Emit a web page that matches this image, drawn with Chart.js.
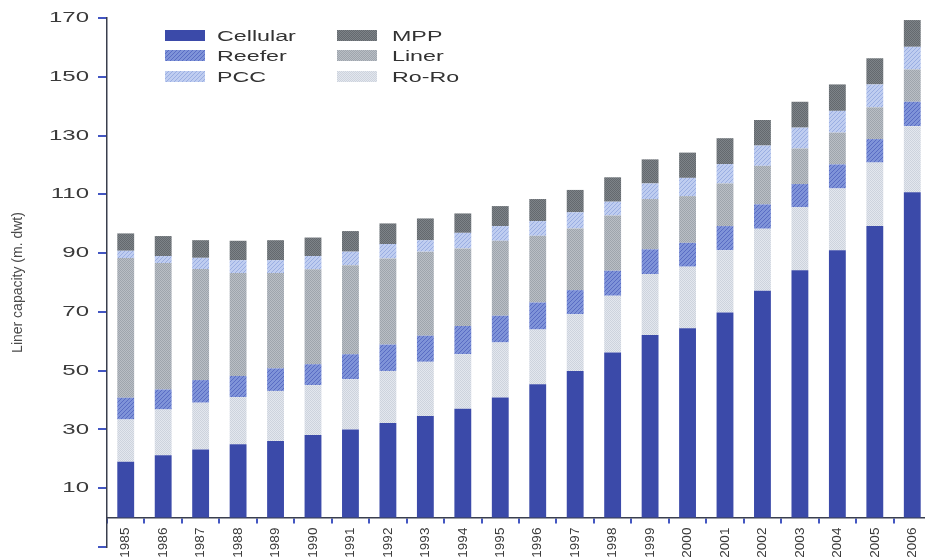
<!DOCTYPE html>
<html>
<head>
<meta charset="utf-8">
<script src="https://cdn.jsdelivr.net/npm/chart.js@4/dist/chart.umd.min.js"></script>
<style>
  html, body { margin: 0; padding: 0; background: #ffffff; }
  #wrap { position: relative; width: 925px; height: 558px; overflow: hidden; }
  #c { position: absolute; left: 0; top: 0; }
  #legend { position: absolute; left: 0; top: 0; font-family: 'Liberation Sans', Arial, Helvetica, sans-serif; font-size: 15.5px; color: #333; }
  .item { position: absolute; height: 12px; }
  .item canvas { position: absolute; left: 0; top: 0; }
  .item span { position: absolute; top: -3px; white-space: nowrap; transform: scaleX(1.5); transform-origin: 0 50%; line-height: 18px; }
</style>
</head>
<body>
<div id="wrap">
  <canvas id="c" width="931" height="558"></canvas>
  <div id="legend"></div>
</div>
<script>
// ---- data (million dwt) ----
const years = ['1985','1986','1987','1988','1989','1990','1991','1992','1993','1994','1995','1996','1997','1998','1999','2000','2001','2002','2003','2004','2005','2006'];
const cellular = [19.0,21.2,23.2,25.0,26.1,28.1,30.0,32.2,34.6,37.0,40.9,45.4,49.9,56.2,62.1,64.4,69.8,77.2,84.2,91.0,99.2,110.7];
const roro     = [14.4,15.6,15.9,16.0,17.0,17.0,17.1,17.7,18.4,18.6,18.7,18.6,19.3,19.3,20.8,21.0,21.2,21.1,21.4,21.0,21.6,22.5];
const reefer   = [7.4,6.8,7.7,7.2,7.7,7.1,8.5,9.0,8.9,9.6,9.1,9.2,8.2,8.5,8.4,8.1,8.2,8.3,7.9,8.2,8.0,8.3];
const liner    = [47.5,43.0,37.8,35.0,32.4,32.3,30.3,29.3,28.6,26.4,25.5,22.7,21.0,18.8,17.1,15.9,14.5,13.1,12.1,10.8,10.8,11.0];
const pcc      = [2.5,2.4,3.8,4.4,4.4,4.5,4.6,4.9,3.9,5.3,5.0,5.0,5.5,4.7,5.3,6.2,6.6,6.9,7.1,7.4,7.8,7.7];
const mpp      = [5.9,6.8,6.0,6.6,6.8,6.3,7.0,7.0,7.4,6.6,6.8,7.5,7.6,8.3,8.2,8.6,8.8,8.7,8.8,9.0,8.9,9.1];
const yTickValues = [-10,10,30,50,70,90,110,130,150,170];
const legendOrder = ['Cellular','MPP','Reefer','Liner','PCC','Ro-Ro'];

// ---- textures ----
function makeTexture(base, fg, kind) {
  const c = document.createElement('canvas');
  const n = kind === 'hatch' ? 4 : 2;
  c.width = n; c.height = n;
  const g = c.getContext('2d');
  g.fillStyle = base; g.fillRect(0, 0, n, n);
  g.fillStyle = fg;
  if (kind === 'hatch') {
    for (let i = 0; i < n; i++) g.fillRect(n - 1 - i, i, 1, 1);
  } else if (kind === 'dots') {
    g.fillRect(0, 0, 1, 1); g.fillRect(1, 1, 1, 1);
  }
  return c;
}
const ctx0 = document.getElementById('c').getContext('2d');
const tex = {
  'Cellular': makeTexture('#3b4aa9', '#3b4aa9', 'solid'),
  'Ro-Ro':    makeTexture('#e3e7ee', '#cdd3dd', 'dots'),
  'Reefer':   makeTexture('#7f93d8', '#596cc4', 'hatch'),
  'Liner':    makeTexture('#b9bec5', '#9ea5ad', 'dots'),
  'PCC':      makeTexture('#bfcdf0', '#9aaee2', 'hatch'),
  'MPP':      makeTexture('#7d8388', '#64696e', 'dots')
};
const pat = k => ctx0.createPattern(tex[k], 'repeat');

// ---- y scale with horizontally widened tick labels ----
class StretchLinear extends Chart.LinearScale {
  drawLabels(area) {
    const ctx = this.ctx;
    const ax = this.right - this.options.grid.tickLength - this.options.ticks.padding;
    ctx.save();
    ctx.translate(ax, 0); ctx.scale(1.6, 1); ctx.translate(-ax, 0);
    super.drawLabels(area);
    ctx.restore();
  }
}
StretchLinear.id = 'stretchLinear';
Chart.register(StretchLinear);

const FONT = "'Liberation Sans', Arial, Helvetica, sans-serif";
const tickBlue = '#4356c2';
const axisColor = '#3a3f4e';

const chart = new Chart(document.getElementById('c'), {
  type: 'bar',
  data: {
    labels: years,
    datasets: [
      { label: 'Cellular', data: cellular, backgroundColor: pat('Cellular') },
      { label: 'Ro-Ro',    data: roro,     backgroundColor: pat('Ro-Ro') },
      { label: 'Reefer',   data: reefer,   backgroundColor: pat('Reefer') },
      { label: 'Liner',    data: liner,    backgroundColor: pat('Liner') },
      { label: 'PCC',      data: pcc,      backgroundColor: pat('PCC') },
      { label: 'MPP',      data: mpp,      backgroundColor: pat('MPP') }
    ]
  },
  options: {
    responsive: false,
    animation: false,
    events: [],
    layout: { padding: { top: 18, bottom: 11, left: 0, right: 0 } },
    datasets: { bar: { categoryPercentage: 1.0, barPercentage: 0.45, borderWidth: 0 } },
    plugins: { legend: { display: false }, tooltip: { enabled: false } },
    scales: {
      x: {
        stacked: true,
        position: { y: 0 },
        afterFit: s => { s.paddingLeft = 0; s.paddingRight = 0; s.paddingTop = 0; s.paddingBottom = 0; },
        grid: { drawOnChartArea: false, drawTicks: true, tickLength: 5, color: tickBlue, lineWidth: 2, offset: true },
        border: { color: axisColor, width: 1.5 },
        ticks: { minRotation: 90, maxRotation: 90, autoSkip: false, padding: 5, color: '#3a3a3a', font: { family: FONT, size: 13.5 } }
      },
      y: {
        type: 'stretchLinear',
        stacked: true,
        min: -10,
        max: 170,
        afterBuildTicks: s => { s.ticks = yTickValues.map(v => ({ value: v })); },
        afterFit: s => { s.width = 107; s.paddingTop = 0; s.paddingBottom = 0; },
        grid: { drawOnChartArea: false, drawTicks: true, tickLength: 9, color: tickBlue, lineWidth: 2 },
        border: { color: axisColor, width: 1.5 },
        ticks: { padding: 9, color: '#3a3a3a', font: { family: FONT, size: 15 }, callback: v => (v < 0 ? '' : String(v)) },
        title: { display: true, text: 'Liner capacity (m. dwt)', color: '#4a4a4a', font: { family: FONT, size: 14 }, padding: { top: 10, bottom: 0 } }
      }
    }
  }
});

// ---- legend (built from the chart's datasets) ----
const legendPos = [
  { x: 165, y: 30 }, { x: 337, y: 30 },
  { x: 165, y: 50 }, { x: 337, y: 50 },
  { x: 165, y: 70.5 }, { x: 337, y: 70.5 }
];
const legend = document.getElementById('legend');
legendOrder.forEach((name, i) => {
  const p = legendPos[i];
  const d = document.createElement('div');
  d.className = 'item';
  d.style.left = p.x + 'px'; d.style.top = p.y + 'px';
  const sw = document.createElement('canvas');
  sw.width = 40; sw.height = 11;
  const g = sw.getContext('2d');
  g.fillStyle = g.createPattern(tex[name], 'repeat');
  g.fillRect(0, 0, 40, 11);
  d.appendChild(sw);
  const t = document.createElement('span');
  t.textContent = name;
  t.style.left = (i % 2 === 0 ? 52 : 55) + 'px';
  d.appendChild(t);
  legend.appendChild(d);
});
</script>
</body>
</html>
